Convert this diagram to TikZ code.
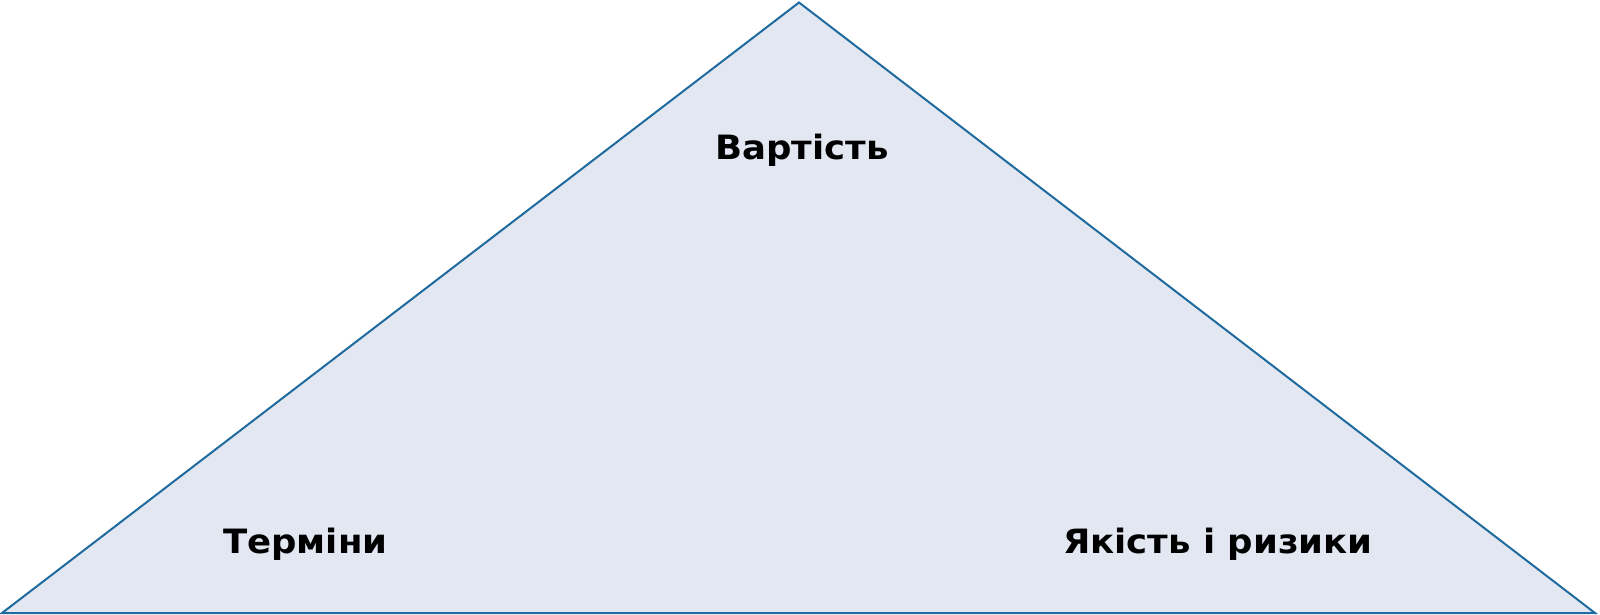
\documentclass[tikz,border=0pt]{standalone}
\usepackage{fontspec}
\setmainfont{DejaVu Sans}
\newcommand{\lbltext}[1]{\scalebox{1.06}[1]{#1}}
\begin{document}
\begin{tikzpicture}[x=1pt,y=-1pt,
  tri/.style={draw=edgeblue,fill=fillblue,line width=2pt,line join=miter},
  lbl/.style={inner sep=0pt,anchor=base west,font=\fontsize{33.5}{38}\selectfont\bfseries,text=black}]
\definecolor{edgeblue}{HTML}{1F6A9E}
\definecolor{fillblue}{HTML}{E2E7F2}
\useasboundingbox (0,0) rectangle (1600,615);
\coordinate (apex) at (799,2.5);
\coordinate (bl) at (2,613);
\coordinate (br) at (1595,613);
\draw[tri] (apex) -- (br) -- (bl) -- cycle;
\node[lbl] (cost) at (715,159) {\lbltext{Вартість}};
\node[lbl] (time) at (223,553) {\lbltext{Терміни}};
\node[lbl] (qual) at (1063,553) {\lbltext{Якість і ризики}};
\end{tikzpicture}
\end{document}
